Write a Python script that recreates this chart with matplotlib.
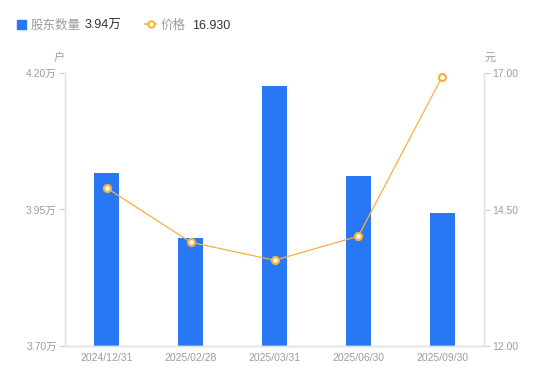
import matplotlib
matplotlib.use("Agg")
import matplotlib.pyplot as plt
from matplotlib.lines import Line2D

plt.rcParams['font.family'] = ['Liberation Sans', 'Noto Sans CJK SC', 'DejaVu Sans']

# data
dates = ["2024/12/31", "2025/02/28", "2025/03/31", "2025/06/30", "2025/09/30"]
holders = [4.017, 3.898, 4.176, 4.011, 3.944]   # 万户
price = [14.89, 13.90, 13.57, 14.01, 16.93]     # 元
left_ticks = [3.70, 3.95, 4.20]
right_ticks = [12.00, 14.50, 17.00]

blue = "#2878f5"
orange = "#f7b03c"
grey = "#9b9ba8"
axis_col = "#e3e3e8"

fig = plt.figure(figsize=(5.5, 3.81), dpi=100)
ax = fig.add_axes([65 / 550, 35 / 381, 419 / 550, 273 / 381])
ax2 = ax.twinx()

x = list(range(len(dates)))
ax.bar(x, holders, width=0.30, color=blue, zorder=2)
ax.set_ylim(left_ticks[0], left_ticks[-1])
ax.set_xlim(-0.5, len(dates) - 0.5)
ax.set_yticks(left_ticks)
ax.set_yticklabels([f"{v:.2f}万" for v in left_ticks])
ax.set_xticks(x)
ax.set_xticklabels(dates)

ax2.plot(x, price, color=orange, lw=0.9, marker="o", ms=5,
         mfc="white", mec=orange, mew=1.6, zorder=3)
ax2.set_ylim(right_ticks[0], right_ticks[-1])
ax2.set_yticks(right_ticks)
ax2.set_yticklabels([f"{v:.2f}" for v in right_ticks])

for a in (ax, ax2):
    a.spines["top"].set_visible(False)
    for s in ("left", "right", "bottom"):
        a.spines[s].set_color(axis_col)
        a.spines[s].set_linewidth(1)
    a.tick_params(axis="y", colors=grey, labelsize=7.5, length=4, width=0.8,
                  color="#cfcfd6", pad=2)
    a.tick_params(axis="x", colors=grey, labelsize=7.5, length=0, pad=5)
    for lbl in a.get_yticklabels() + a.get_xticklabels():
        lbl.set_color(grey)

ax.set_zorder(ax2.get_zorder() - 1)
ax.patch.set_visible(True)
ax2.patch.set_visible(False)

# unit labels
fig.text(59 / 550, 1 - 58 / 381, "户", color=grey, fontsize=8, ha="center", va="center")
fig.text(490 / 550, 1 - 58 / 381, "元", color=grey, fontsize=8, ha="center", va="center")

# legend line at top
ly = 1 - 26 / 381
fig.patches.append(plt.Rectangle((17 / 550, 1 - 29 / 381), 9 / 550, 9 / 381,
                                 transform=fig.transFigure, color=blue, figure=fig))
fig.text(31 / 550, ly, "股东数量", color=grey, fontsize=9, va="center")
fig.text(85 / 550, ly, f"{holders[-1]:.2f}万", color="#333333", fontsize=9, va="center")
fig.lines.append(Line2D([145 / 550, 156 / 550], [1 - 24 / 381, 1 - 24 / 381],
                        transform=fig.transFigure, color=orange, lw=1.2))
fig.lines.append(Line2D([150.5 / 550], [1 - 24 / 381], transform=fig.transFigure,
                        color=orange, marker="o", ms=4.5, mfc="white", mew=1.5, ls="none"))
fig.text(161 / 550, ly, "价格", color=grey, fontsize=9, va="center")
fig.text(192 / 550, ly, f"{price[-1]:.3f}", color="#333333", fontsize=9, va="center")

fig.savefig("out.png", dpi=100)
